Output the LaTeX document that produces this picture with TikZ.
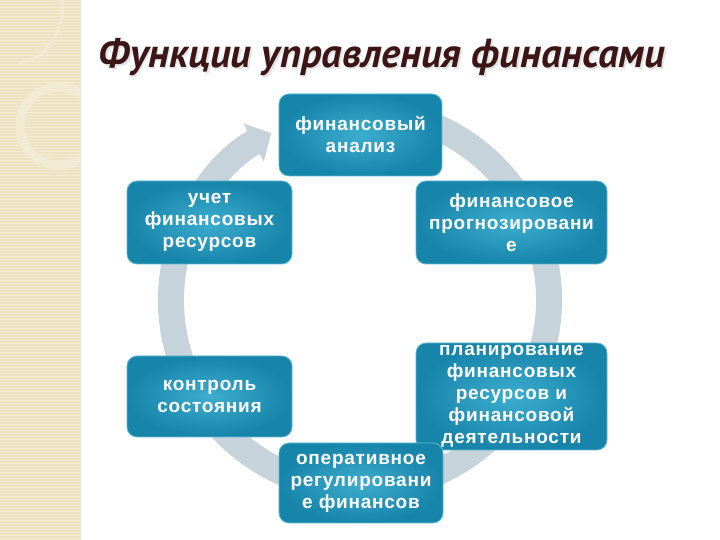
\documentclass[tikz,border=0pt]{standalone}
\usepackage{fontspec}
\setmainfont{Liberation Sans}
\newfontfamily\boxfont[LetterSpace=4]{Liberation Sans}
\newfontfamily\titlefont{PT Sans}
\usetikzlibrary{arrows.meta,calc}
\definecolor{boxdark}{HTML}{1784AA}
\definecolor{boxlight}{HTML}{3BADCE}
\definecolor{boxrim}{HTML}{5FB8D2}
\definecolor{ringc}{HTML}{C7D3DA}
\definecolor{titlec}{HTML}{3C1616}
\definecolor{stripc}{HTML}{EDE3C2}
\definecolor{stripl}{HTML}{F3EBD3}
\definecolor{stripd}{HTML}{F2EAD3}
\begin{document}
\begin{tikzpicture}[x=1pt,y=1pt,
  fbox/.style={rounded corners=10pt, shade, inner color=boxlight, outer color=boxdark,
    draw=boxrim, line width=0.8pt, text=white,
    font=\boxfont\fontsize{19}{22}\selectfont\bfseries, align=center, inner sep=0pt},
  ttl/.style={font=\titlefont\fontsize{40.5}{46}\selectfont\bfseries\itshape, anchor=base, inner sep=0pt}
]
\useasboundingbox (0,0) rectangle (720,540);
\fill[white] (0,0) rectangle (720,540);
% left strip
\fill[stripc] (0,0) rectangle (80,540);
\foreach \yy in {1.5,4.5,...,540} \draw[stripl, line width=0.7pt] (0,\yy) -- (80,\yy);
\begin{scope}
  \clip (0,0) rectangle (80,540);
  \draw[stripd, line width=3pt] (63,540) .. controls (62,505) and (45,478) .. (18,477);
  \draw[stripd, line width=9pt] (59,414) circle[radius=39pt];
\end{scope}
\draw[stripc!85!black!40!white, line width=1pt] (80.5,0) -- (80.5,540);
% title
\node[ttl, text=black!30, opacity=0.35] (tshadow) at (383.5,470.5) {Функции управления финансами};
\node[ttl, text=titlec] (title) at (382,472) {Функции управления финансами};
% ring arrow
\coordinate (rc) at (360,240);
\draw[ringc, line width=26pt, -{Triangle[width=42pt,length=20pt]}]
  ($(rc)+(80:189)$) arc[start angle=80, end angle=-242, radius=189pt];
% boxes
\node[fbox, minimum width=163pt, minimum height=82pt] (fa) at (360.5,405) {финансовый\\анализ};
\node[fbox, minimum width=191pt, minimum height=83pt] (fp) at (511.5,317.5) {финансовое\\прогнозировани\\е};
\node[fbox, minimum width=165pt, minimum height=83pt] (ur) at (209.5,317.5) {учет\\финансовых\\ресурсов};
\node[fbox, minimum width=165pt, minimum height=81pt] (ks) at (209.5,143.5) {контроль\\состояния};
\node[fbox, minimum width=191pt, minimum height=107pt] (pl) at (511.5,143.5) {планирование\\финансовых\\ресурсов и\\финансовой\\деятельности};
\node[fbox, minimum width=164pt, minimum height=80pt] (or) at (361,57) {оперативное\\регулировани\\е финансов};
\end{tikzpicture}
\end{document}
